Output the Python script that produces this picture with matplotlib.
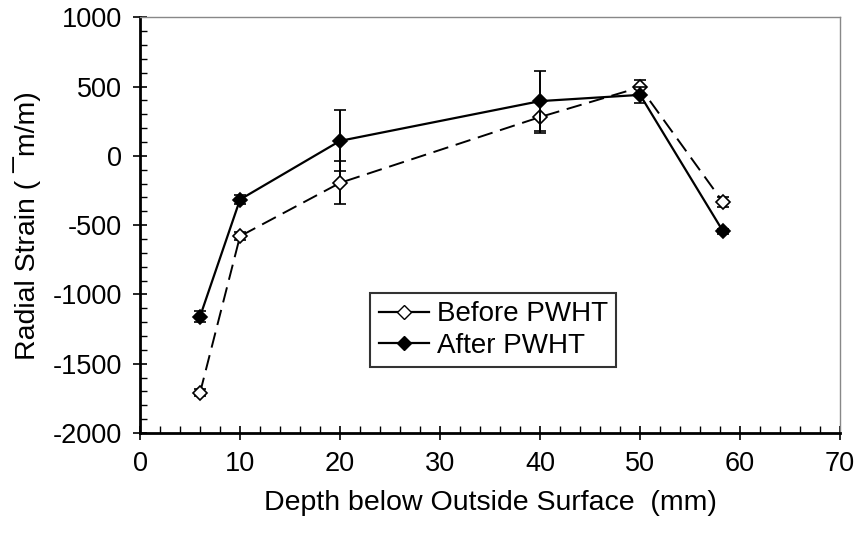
import matplotlib
matplotlib.use("Agg")
import matplotlib.pyplot as plt
from matplotlib.ticker import MultipleLocator
from matplotlib.lines import Line2D

plt.rcParams['font.family'] = ['Liberation Sans', 'DejaVu Sans']
plt.rcParams['axes.unicode_minus'] = False

# profundidade abaixo da superficie (mm)
depth = [6, 10, 20, 40, 50, 58.3]

# antes do PWHT
before = [-1710, -580, -195, 280, 495, -335]
before_err = [25, 30, 155, 115, 50, 35]

# depois do PWHT
after = [-1160, -315, 108, 395, 440, -545]
after_err = [40, 35, 220, 215, 60, 20]

fig = plt.figure(figsize=(8.59, 5.33), dpi=100)
ax = fig.add_axes([0.163, 0.1876, 0.815, 0.78])

ax.errorbar(depth, before, yerr=before_err, fmt='D', linestyle=(0, (8, 4)),
            color='black', mfc='white', mec='black', ms=7.5, mew=1.2, lw=1.4,
            capsize=4, elinewidth=1.4, capthick=1.4, zorder=3)
ax.errorbar(depth, after, yerr=after_err, fmt='D', linestyle='-',
            color='black', mfc='black', mec='black', ms=7.5, mew=1.2, lw=1.6,
            capsize=4, elinewidth=1.4, capthick=1.4, zorder=4)

ax.set_xlim(0, 70)
ax.set_ylim(-2000, 1000)
ax.xaxis.set_major_locator(MultipleLocator(10))
ax.xaxis.set_minor_locator(MultipleLocator(2))
ax.yaxis.set_major_locator(MultipleLocator(500))
ax.yaxis.set_minor_locator(MultipleLocator(100))
ax.tick_params(which='major', direction='inout', length=10, width=1.2, labelsize=19.5, pad=8)
ax.tick_params(which='minor', direction='in', length=5, width=1.0)

for side in ['top', 'right']:
    ax.spines[side].set_linewidth(1.0)
    ax.spines[side].set_color('#888888')
for side in ['left', 'bottom']:
    ax.spines[side].set_linewidth(2.0)

ax.set_xlabel("Depth below Outside Surface  (mm)", fontsize=20.5, labelpad=9)
ax.set_ylabel("Radial Strain ( \u00afm/m)", fontsize=20.5, labelpad=8)

# legenda sem barras de erro
handles = [
    Line2D([], [], color='black', lw=1.6, marker='D', mfc='white', mec='black', ms=7.5),
    Line2D([], [], color='black', lw=1.6, marker='D', mfc='black', mec='black', ms=7.5),
]
leg = ax.legend(handles, ["Before PWHT", "After PWHT"], loc='upper left',
                bbox_to_anchor=(0.329, 0.337), borderaxespad=0, fontsize=20,
                frameon=True, fancybox=False, edgecolor='black', handlelength=1.8,
                borderpad=0.3, labelspacing=0.2, handletextpad=0.3)
leg.get_frame().set_linewidth(1.5)

fig.savefig("out.png", dpi=100)
